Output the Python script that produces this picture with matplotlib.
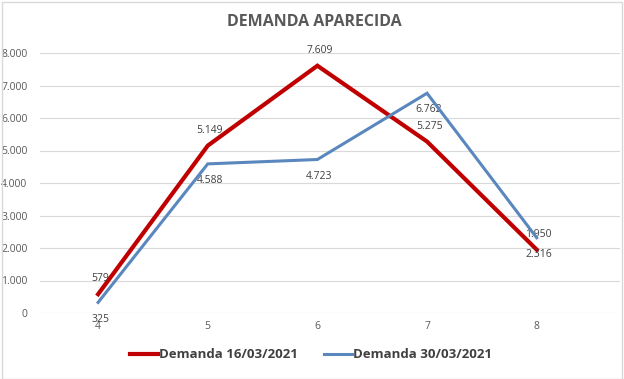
import matplotlib
matplotlib.use("Agg")
import matplotlib.pyplot as plt
from matplotlib.patches import Rectangle

categories = ["4", "5", "6", "7", "8"]
demanda_16 = [579, 5149, 7609, 5275, 1950]
demanda_30 = [325, 4588, 4723, 6762, 2316]
yticks = [0, 1000, 2000, 3000, 4000, 5000, 6000, 7000, 8000]

def fmt(v):
    return f"{v:,}".replace(",", ".")

plt.rcParams['font.family'] = ['Open Sans', 'DejaVu Sans']

fig = plt.figure(figsize=(6.24, 3.79), dpi=100)
ax = fig.add_axes([40/624, 66/379, 580/624, 260/379])

x = list(range(len(categories)))
red = "#C00000"
blue = "#5A87BD"
ax.plot(x, demanda_16, color=red, lw=3.0, label="Demanda 16/03/2021", zorder=3, solid_joinstyle='miter')
ax.plot(x, demanda_30, color=blue, lw=2.2, label="Demanda 30/03/2021", zorder=4, solid_joinstyle='miter')

for xi, v in zip(x, demanda_16):
    ax.annotate(fmt(v), (xi, v), xytext=(1.5, 7), textcoords="offset points",
                ha="center", va="bottom", fontsize=7.5, color="#404040")
for xi, v in zip(x, demanda_30):
    ax.annotate(fmt(v), (xi, v), xytext=(1.5, -8), textcoords="offset points",
                ha="center", va="top", fontsize=7.5, color="#404040")

ax.set_xlim(-0.53, 4.76)
ax.set_ylim(0, 8000)
ax.set_yticks(yticks)
ax.set_yticklabels([fmt(v) for v in yticks])
ax.set_xticks(x)
ax.set_xticklabels(categories)
ax.tick_params(axis='both', length=0, labelsize=7.5, labelcolor="#595959")
ax.tick_params(axis='y', pad=9)
ax.tick_params(axis='x', pad=6)
ax.grid(axis='y', color="#D9D9D9", lw=0.8)
ax.set_axisbelow(True)
for s in ax.spines.values():
    s.set_visible(False)

fig.text(314/624, 1 - 22/379, "DEMANDA APARECIDA", ha="center", va="center",
         fontsize=11.5, fontweight="bold", color="#595959")

leg = fig.legend(loc="center", bbox_to_anchor=(311/624, 1 - 355/379), ncol=2, frameon=False,
                 prop={'size': 9.5, 'weight': 'bold'}, handlelength=2.1, handletextpad=0.1,
                 columnspacing=2.0)
for t in leg.get_texts():
    t.set_color("#404040")

fig.add_artist(Rectangle((1.5/624, 0), 620/624, 1 - 2/379, transform=fig.transFigure,
                         fill=False, edgecolor="#D9D9D9", lw=1))

fig.savefig("out.png", dpi=100)
